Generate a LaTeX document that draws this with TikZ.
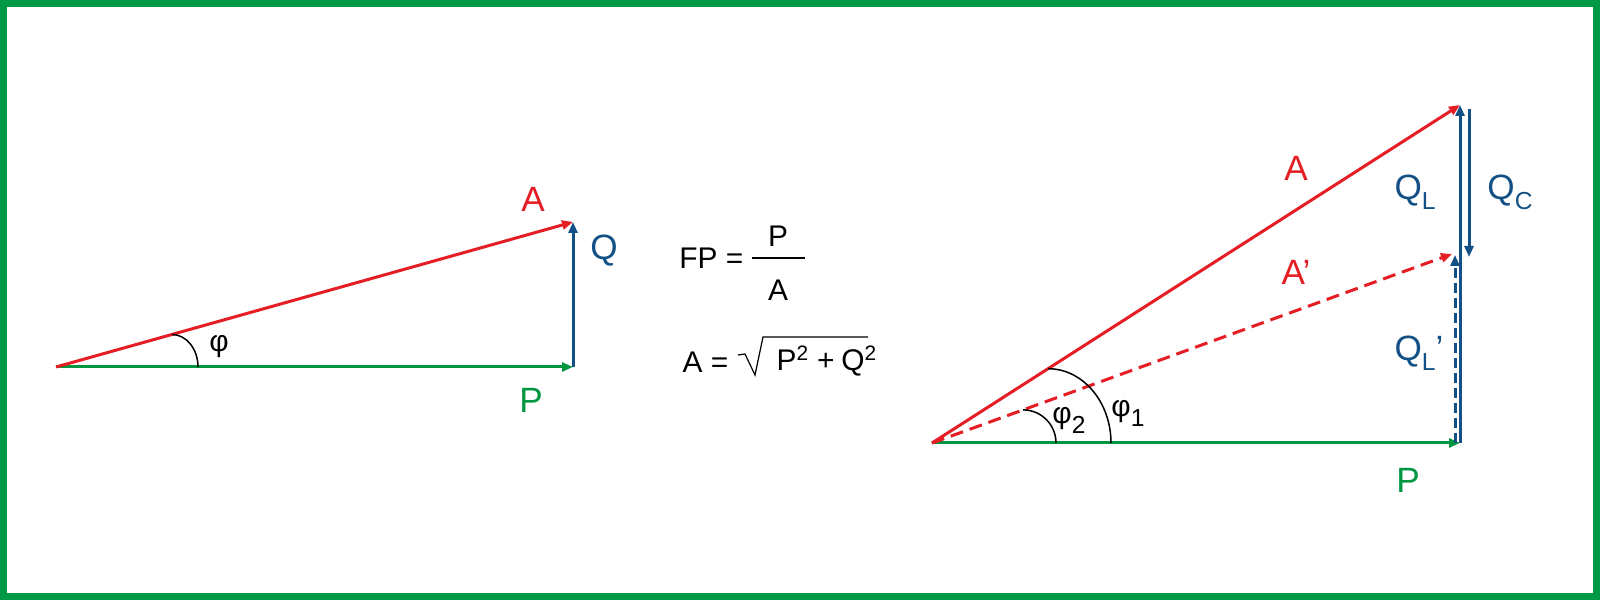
\documentclass[tikz,border=0pt]{standalone}
\usepackage{fontspec}
\setmainfont{Liberation Sans}
\usetikzlibrary{arrows.meta}

\definecolor{fpred}{RGB}{228,30,36}
\definecolor{fpblue}{RGB}{18,80,134}
\definecolor{fpgreen}{RGB}{0,150,64}
\definecolor{framegreen}{RGB}{0,154,68}
\newcommand{\lowidx}[1]{\raisebox{-1mm}{\fontsize{7}{8}\selectfont #1}}

\begin{document}
\begin{tikzpicture} [x=0.1mm, y=0.1mm, font=\fontsize{8.5}{10}\selectfont,
  vec/.style={line width=0.3mm, -{Triangle[length=1.1mm, width=0.9mm]}},
  avec/.style={vec, fpred},
  pvec/.style={vec, fpgreen},
  qvec/.style={vec, fpblue},
  reddash/.style={dash pattern=on 1.3mm off 0.7mm},
  bluedash/.style={dash pattern=on 1mm off 0.5mm},
  anglemark/.style={line width=0.15mm},
  veclabel/.style={font=\fontsize{10}{12}\selectfont}]
\useasboundingbox (0,0) rectangle (1600,600);
\draw[framegreen, line width=0.7mm] (3.5,3.5) rectangle (1596.5,596.5);

% left triangle
\coordinate (O1) at (56,233);
\coordinate (P1) at (573,233);
\coordinate (Q1) at (573,378);
\draw[pvec] (O1) -- (P1);
\draw[qvec] (P1) -- (Q1);
\draw[avec] (O1) -- (Q1);
\draw[anglemark] (172,265.5) arc[start angle=90, end angle=0, x radius=2.6mm, y radius=3.25mm];
\node (phi) at (219,253) {φ};
\node[veclabel, text=fpred] (alabel) at (533,401) {A};
\node[veclabel, text=fpblue] (qlabel) at (604,349) {Q};
\node[veclabel, text=fpgreen] (plabel) at (531,200) {P};

% formulas
\node[anchor=east, inner sep=0] (fp) at (744,342) {FP =};
\node (num) at (778,364) {P};
\node (den) at (778,310) {A};
\draw[line width=0.12mm] (752,342) -- (805,342);
\node[anchor=east, inner sep=0] (aeq) at (729,238) {A =};
\node[anchor=west, inner sep=0] (rad) at (776,239) {P\textsuperscript{2}\hspace{0.7mm}+\hspace{0.7mm}Q\textsuperscript{2}};
\draw[line width=0.12mm] (738,245) -- (745,246) -- (755,225) -- (763,263) -- (868,263);

% right triangle
\coordinate (O2) at (932,157);
\coordinate (P2) at (1460,157);
\coordinate (T2) at (1460,495);
\coordinate (T2b) at (1452,346);
\draw[pvec] (O2) -- (P2);
\draw[qvec] (P2) -- (T2);
\draw[qvec] (1469,491) -- (1469,343);
\draw[qvec, bluedash] (1455,157) -- (1455,345);
\draw[avec] (O2) -- (T2);
\draw[avec, reddash] (O2) -- (T2b);
\draw[anglemark] (1048,231.3) arc[start angle=90, end angle=0, x radius=6.3mm, y radius=7.43mm];
\draw[anglemark] (1023,190.1) arc[start angle=90, end angle=0, x radius=3.3mm, y radius=3.31mm];
\node (phione) at (1128,187) {φ\lowidx{1}};
\node (phitwo) at (1069,180) {φ\lowidx{2}};
\node[veclabel, text=fpred] (a2label) at (1296,432) {A};
\node[veclabel, text=fpred] (a3label) at (1296,328) {A’};
\node[veclabel, text=fpblue] (qllabel) at (1415,408) {Q\lowidx{L}};
\node[veclabel, text=fpblue] (qclabel) at (1510,408) {Q\lowidx{C}};
\node[veclabel, text=fpblue] (qlplabel) at (1419,247) {Q\lowidx{L}’};
\node[veclabel, text=fpgreen] (p2label) at (1408,120) {P};
\end{tikzpicture}
\end{document}
